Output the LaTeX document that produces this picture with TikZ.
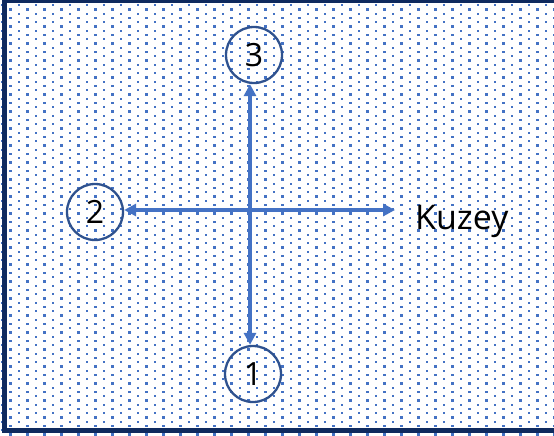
\documentclass[tikz,border=0pt]{standalone}
\usepackage{fontspec}
\setmainfont{Open Sans}
\usetikzlibrary{arrows.meta}
\definecolor{navy}{HTML}{0F2A5E}
\definecolor{dotblue}{HTML}{4472C4}
\definecolor{ringblue}{HTML}{2F528F}
\begin{document}
\begin{tikzpicture}[x=1pt,y=-1pt,
  ring/.style={circle, draw=ringblue, line width=2.3pt, minimum size=56pt, inner sep=0pt, font=\fontsize{32}{32}\selectfont},
  axis/.style={draw=dotblue, line width=3.6pt, {Triangle[length=12pt,width=12pt]}-{Triangle[length=12pt,width=12pt]}},
  label/.style={font=\fontsize{34}{34}\selectfont, inner sep=0pt}]
\useasboundingbox (0,0) rectangle (554,436);
\fill[white] (0,0) rectangle (554,436);
\foreach \n in {0,...,50}{
  \foreach \c in {0,...,33}{
    \fill[dotblue] ({2+17*\c-1.1},{5.3+8.5*\n-1.1}) rectangle ++(2.2,2.2);
    \fill[dotblue] ({10.5+17*\c-1.1},{9.55+8.5*\n-1.1}) rectangle ++(2.2,2.2);
  }
}
\draw[navy, line width=5pt] (4.2,0.8) rectangle (570,430.5);
\node[ring] (c3) at (254,55) {3};
\node[ring] (c2) at (95,212) {2};
\node[ring] (c1) at (253,374) {1};
\coordinate (cross) at (250,210);
\coordinate (east) at (395,210);
\node[label, anchor=base west] (k) at (415,229) {Kuzey};
\draw[axis] (cross |- c3.south) -- (cross |- c1.north);
\draw[axis] (c2.east |- cross) -- (east);
\end{tikzpicture}
\end{document}
